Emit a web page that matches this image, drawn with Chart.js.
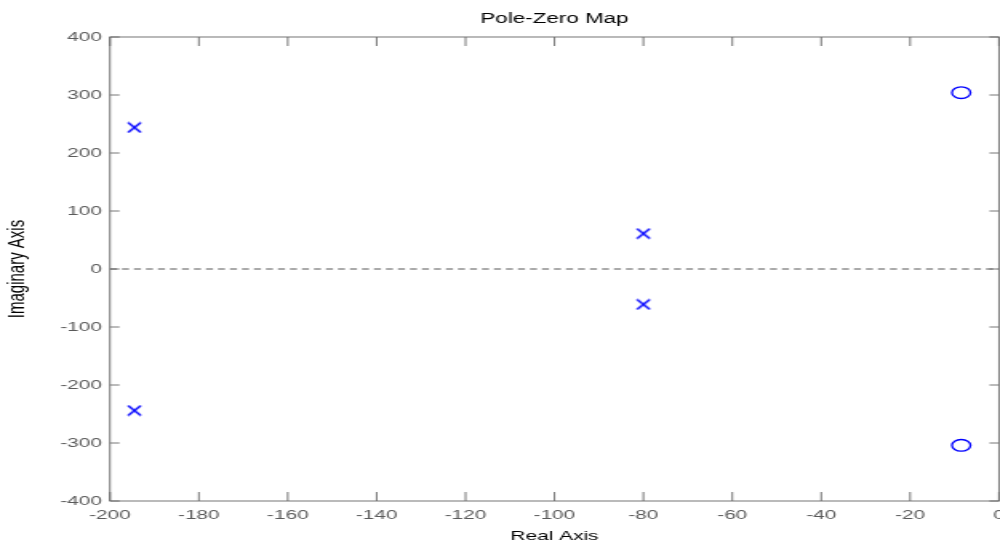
<!DOCTYPE html>
<html>
<head>
<meta charset="utf-8">
<script src="https://cdn.jsdelivr.net/npm/chart.js@4/dist/chart.umd.min.js"></script>
<style>
  html, body { margin: 0; padding: 0; background: #fff; overflow: hidden; width: 1000px; height: 551px; }
  /* the reference figure is stretched sideways, so the chart is drawn narrow and widened */
  #wrap { width: 660px; height: 551px; transform: scaleX(1.6); transform-origin: 0 0; }
</style>
</head>
<body>
<div id="wrap"><canvas id="pz"></canvas></div>
<script>
const poleRe = [-194.5, -194.5, -80, -80];
const poleIm = [244, -244, 61, -61];
const zeroRe = [-8.5, -8.5];
const zeroIm = [304, -304];
const realTicks = [-200, -180, -160, -140, -120, -100, -80, -60, -40, -20, 0];
const imagTicks = [-400, -300, -200, -100, 0, 100, 200, 300, 400];

const AXIS = "#666666";
const LABEL = "#5a5a5a";
const BLUE = "#0000ff";
const FONT = "'Liberation Sans', Arial, Helvetica, sans-serif";

// x marker: slightly taller than wide once the canvas is stretched
function crossMarker() {
  const c = document.createElement("canvas");
  c.width = 10;
  c.height = 12;
  const g = c.getContext("2d");
  g.strokeStyle = BLUE;
  g.lineWidth = 1.5;
  g.beginPath();
  g.moveTo(1, 1); g.lineTo(9, 11);
  g.moveTo(9, 1); g.lineTo(1, 11);
  g.stroke();
  return c;
}

const frameTicks = {
  id: "frameTicks",
  afterDatasetsDraw(chart) {
    const { ctx, chartArea: a, scales: { x, y } } = chart;
    ctx.save();
    ctx.strokeStyle = AXIS;
    ctx.lineWidth = 0.9;
    ctx.strokeRect(a.left, a.top, a.right - a.left, a.bottom - a.top);
    ctx.beginPath();
    x.ticks.forEach((t) => {
      const px = x.getPixelForValue(t.value);
      ctx.moveTo(px, a.bottom); ctx.lineTo(px, a.bottom - 9);
      ctx.moveTo(px, a.top); ctx.lineTo(px, a.top + 9);
    });
    y.ticks.forEach((t) => {
      const py = y.getPixelForValue(t.value);
      ctx.moveTo(a.left, py); ctx.lineTo(a.left + 6, py);
      ctx.moveTo(a.right, py); ctx.lineTo(a.right - 6, py);
    });
    ctx.stroke();
    ctx.restore();
  },
};

new Chart(document.getElementById("pz"), {
  type: "scatter",
  data: {
    datasets: [
      {
        label: "zero line",
        type: "line",
        data: [{ x: realTicks[0], y: 0 }, { x: realTicks[realTicks.length - 1], y: 0 }],
        borderColor: "#555555",
        borderWidth: 1,
        borderDash: [4.4, 3.1],
        pointRadius: 0,
      },
      {
        label: "poles",
        data: poleRe.map((v, i) => ({ x: v, y: poleIm[i] })),
        pointStyle: crossMarker(),
        pointRadius: 6,
      },
      {
        label: "zeros",
        data: zeroRe.map((v, i) => ({ x: v, y: zeroIm[i] })),
        pointStyle: "circle",
        pointRadius: 5.8,
        borderColor: BLUE,
        borderWidth: 1.3,
        backgroundColor: "rgba(0,0,0,0)",
      },
    ],
  },
  options: {
    responsive: true,
    maintainAspectRatio: false,
    animation: false,
    layout: { padding: { left: 0, right: 35.6, top: 0, bottom: 0 } },
    plugins: {
      legend: { display: false },
      tooltip: { enabled: false },
      title: {
        display: true,
        text: "Pole-Zero Map",
        fullSize: false,
        color: "#000",
        font: { family: FONT, size: 14, weight: "normal" },
        padding: { top: 11, bottom: 9.2 },
      },
    },
    scales: {
      x: {
        type: "linear",
        min: -200,
        max: 0,
        afterBuildTicks: (s) => { s.ticks = realTicks.map((v) => ({ value: v })); },
        afterFit: (s) => { s.height = 50; },
        grid: { display: false, drawTicks: false, tickLength: 0 },
        border: { display: false },
        ticks: { color: LABEL, padding: 6.5, maxRotation: 0, autoSkip: false, font: { family: FONT, size: 13 } },
        title: {
          display: true,
          text: "Real Axis",
          color: "#000",
          font: { family: FONT, size: 13 },
          padding: { top: 0, bottom: 6.5 },
        },
      },
      y: {
        type: "linear",
        min: -400,
        max: 400,
        afterBuildTicks: (s) => { s.ticks = imagTicks.map((v) => ({ value: v })); },
        afterFit: (s) => { s.width = 68.75; },
        grid: { display: false, drawTicks: false, tickLength: 0 },
        border: { display: false },
        ticks: { color: LABEL, padding: 5, autoSkip: false, font: { family: FONT, size: 13 } },
        title: {
          display: true,
          text: "Imaginary Axis",
          color: "#000",
          font: { family: FONT, size: 15 },
          padding: { top: 1.8, bottom: 0 },
        },
      },
    },
  },
  plugins: [frameTicks],
});
</script>
</body>
</html>
